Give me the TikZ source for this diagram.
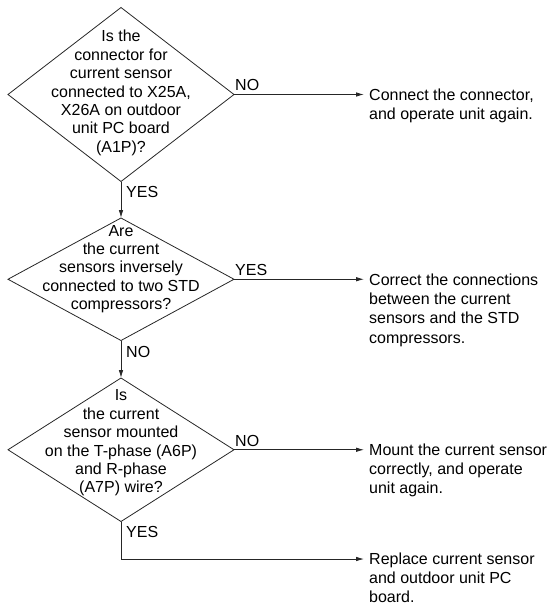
\documentclass[tikz,border=0pt]{standalone}
\usepackage{fontspec}
\setmainfont{Liberation Sans}
\usetikzlibrary{shapes.geometric,arrows.meta,calc}
\tikzset{
  dia/.style={draw=black!85, line width=0.8pt, shape=diamond, inner sep=0pt, outer sep=0pt, minimum width=226pt},
  dtext/.style={align=center, inner sep=0pt, font=\fontsize{16}{18.4}\selectfont},
  rtext/.style={align=left, inner sep=0pt, anchor=north west, font=\fontsize{16}{19.3}\selectfont},
  lab/.style={inner sep=0pt, anchor=base west, font=\fontsize{16}{19}\selectfont},
  conn/.style={draw=black!85, line width=0.8pt},
  arr/.style={conn, -{Latex[length=8pt,width=4.5pt]}},
}
\begin{document}
\begin{tikzpicture}[x=1pt,y=-1pt]
\useasboundingbox (0,0) rectangle (548,605);
% diamonds
\node[dia, minimum height=174pt] (d1) at (121,94.5) {};
\node[dia, minimum height=122.5pt] (d2) at (121,279.25) {};
\node[dia, minimum height=143.5pt] (d3) at (121,449.75) {};
% diamond texts
\node[dtext] (t1) at (121,93) {Is the\\connector for\\current sensor\\connected to X25A,\\X26A on outdoor\\unit PC board\\(A1P)?};
\node[dtext] (t2) at (121,269) {Are\\the current\\sensors inversely\\connected to two STD\\compressors?};
\node[dtext] (t3) at (121,443) {Is\\the current\\sensor mounted\\on the T-phase (A6P)\\and R-phase\\(A7P) wire?};
% right texts
\node[rtext] (r1) at (369,88.5) {Connect the connector,\\and operate unit again.};
\node[rtext] (r2) at (369,273.5) {Correct the connections\\between the current\\sensors and the STD\\compressors.};
\node[rtext] (r3) at (369,443.5) {Mount the current sensor\\correctly, and operate\\unit again.};
\node[rtext] (r4) at (369,552.5) {Replace current sensor\\and outdoor unit PC\\board.};
% arrow end points
\coordinate (a1) at (364,94.5);
\coordinate (a2) at (364,279.25);
\coordinate (a3) at (364,449.75);
\coordinate (a4) at (364,559);
% connectors
\draw[arr] (d1.south) -- (d2.north);
\draw[arr] (d2.south) -- (d3.north);
\draw[arr] (d1.east) -- (a1);
\draw[arr] (d2.east) -- (a2);
\draw[arr] (d3.east) -- (a3);
\draw[arr] (d3.south) |- (a4);
% labels
\node[lab] (l1) at ($(d1.east)+(1,-3.8)$) {NO};
\node[lab] (l2) at ($(d1.south)+(5,16)$) {YES};
\node[lab] (l3) at ($(d2.east)+(1,-3.8)$) {YES};
\node[lab] (l4) at ($(d2.south)+(5,17)$) {NO};
\node[lab] (l5) at ($(d3.east)+(1,-3)$) {NO};
\node[lab] (l6) at ($(d3.south)+(5,16)$) {YES};
\end{tikzpicture}
\end{document}
